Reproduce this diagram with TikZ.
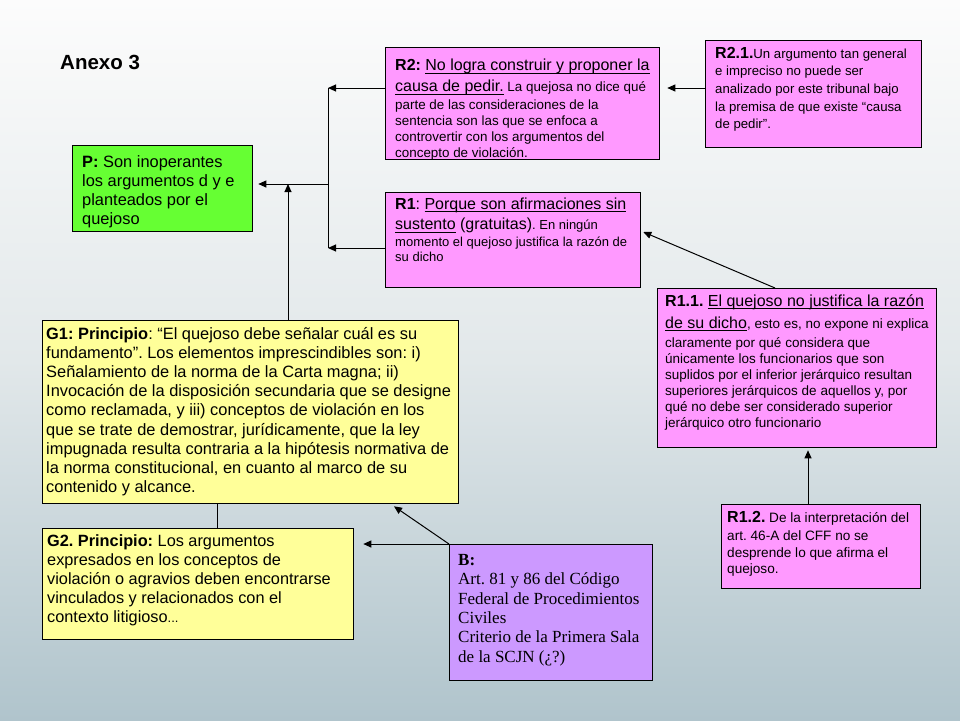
\documentclass[tikz,border=0pt]{standalone}
\usepackage{fontspec}
\setmainfont{Liberation Sans}
\newfontfamily\serifB{Liberation Serif}
\usetikzlibrary{arrows.meta,calc}
\frenchspacing
\definecolor{pinkbx}{RGB}{255,153,255}
\definecolor{greenbx}{RGB}{102,255,51}
\definecolor{yellowbx}{RGB}{255,255,153}
\definecolor{purplebx}{RGB}{204,153,255}
\definecolor{bgtop}{RGB}{252,252,252}
\definecolor{bgmid}{RGB}{226,232,234}
\definecolor{bgbot}{RGB}{176,196,204}
\newcommand\ulx[1]{\leavevmode\setbox0=\hbox{#1}\rlap{\rule[-3pt]{\wd0}{0.9pt}}\box0\relax}
\newcommand\fzH{\fontsize{16}{20}\selectfont}
\newcommand\fzS{\fontsize{13.4}{16}\selectfont}
\newcommand\fzG{\fontsize{16.4}{19.2}\selectfont}
\newcommand\fzB{\serifB\fontsize{17}{19.3}\selectfont}
\newcommand\tbox[2]{\parbox[t]{#1}{\raggedright\frenchspacing\lineskiplimit=-30pt\relax #2}}
\begin{document}
\begin{tikzpicture}[x=1pt,y=-1pt,
  bx/.style={draw=black,line width=1.3pt,inner sep=0pt,anchor=north west},
  txt/.style={inner sep=0pt,anchor=base west},
  arr/.style={line width=1pt,-{Triangle[length=8pt,width=7pt]}},
  conn/.style={line width=1pt}]
\useasboundingbox (0,0) rectangle (960,720);
\shade[top color=bgtop,bottom color=bgbot,middle color=bgmid] (0,0) rectangle (960,720);

\node[txt,font=\bfseries\fontsize{20.5}{24}\selectfont] (title) at (60,69) {Anexo 3};

% boxes
\node[bx,fill=greenbx,minimum width=180pt,minimum height=86pt] (P) at (72,145) {};
\node[bx,fill=pinkbx,minimum width=274pt,minimum height=112pt] (R2) at (385,47) {};
\node[bx,fill=pinkbx,minimum width=216pt,minimum height=107pt] (R21) at (705,40) {};
\node[bx,fill=pinkbx,minimum width=255pt,minimum height=95pt] (R1) at (385,192) {};
\node[bx,fill=pinkbx,minimum width=279pt,minimum height=159pt] (R11) at (657,288) {};
\node[bx,fill=yellowbx,minimum width=416pt,minimum height=183pt] (G1) at (42,320) {};
\node[bx,fill=yellowbx,minimum width=311pt,minimum height=111pt] (G2) at (42,528) {};
\node[bx,fill=purplebx,minimum width=203pt,minimum height=136pt] (B) at (449,544) {};
\node[bx,fill=pinkbx,minimum width=199pt,minimum height=84pt] (R12) at (721,504) {};

% texts
\node[txt] (Pt) at (82,167) {\tbox{175pt}{\fzG\textbf{P:} Son inoperantes\\los argumentos d y e\\planteados por el\\quejoso}};

\node[txt] (R2t) at (395,70.5) {\tbox{300pt}{\fzS{\fzH\textbf{R2:} \ulx{No logra construir y proponer la}}\\[5pt]{\fzH\ulx{causa de pedir.}} La quejosa no dice qué\\[2pt]parte de las consideraciones de la\\sentencia son las que se enfoca a\\controvertir con los argumentos del\\concepto de violación.}};

\node[txt] (R21t) at (715,58) {\tbox{210pt}{\fontsize{13.2}{17.7}\selectfont{\fzH\textbf{R2.1.}}Un argumento tan general\\e impreciso no puede ser\\analizado por este tribunal bajo\\la premisa de que existe “causa\\de pedir”.}};

\node[txt] (R1t) at (395,209) {\tbox{300pt}{\fontsize{13}{15.5}\selectfont{\fzH\textbf{R1}: \ulx{Porque son afirmaciones sin}}\\[5pt]{\fzH\ulx{sustento} (gratuitas)}. En ningún\\[1pt]momento el quejoso justifica la razón de\\su dicho}};

\node[txt] (R11t) at (665,306) {\tbox{290pt}{\fontsize{13.5}{16}\selectfont{\fzH\textbf{R1.1.} \ulx{El quejoso no justifica la razón}}\\[6pt]{\fzH\ulx{de su dicho}}, esto es, no expone ni explica\\[3pt]claramente por qué considera que\\únicamente los funcionarios que son\\suplidos por el inferior jerárquico resultan\\superiores jerárquicos de aquellos y, por\\qué no debe ser considerado superior\\jerárquico otro funcionario}};

\node[txt] (G1t) at (46,339) {\tbox{430pt}{\fzG\textbf{G1: Principio}: “El quejoso debe señalar cuál es su\\fundamento”. Los elementos imprescindibles son: i)\\Señalamiento de la norma de la Carta magna; ii)\\Invocación de la disposición secundaria que se designe\\como reclamada, y iii) conceptos de violación en los\\que se trate de demostrar, jurídicamente, que la ley\\impugnada resulta contraria a la hipótesis normativa de\\la norma constitucional, en cuanto al marco de su\\contenido y alcance.}};

\node[txt] (G2t) at (47,546) {\tbox{320pt}{\fontsize{16.3}{19.2}\selectfont\textbf{G2. Principio:} Los argumentos\\expresados en los conceptos de\\violación o agravios deben encontrarse\\vinculados y relacionados con el\\contexto litigioso{\fontsize{13}{15}\selectfont...}}};

\node[txt] (Bt) at (458,565.5) {\tbox{210pt}{\fzB\textbf{B:}\\Art. 81 y 86 del Código\\Federal de Procedimientos\\Civiles\\Criterio de la Primera Sala\\de la SCJN (¿?)}};

\node[txt] (R12t) at (727,522.5) {\tbox{200pt}{\fontsize{13.6}{16.8}\selectfont{\fzH\textbf{R1.2.}} De la interpretación del\\[1pt]art. 46-A del CFF no se\\desprende lo que afirma el\\quejoso.}};

% connector helper coordinates
\coordinate (jA) at (328,88);
\coordinate (jB) at (328,248);
\coordinate (jP) at (328,184);
\coordinate (jG) at (288,184);
\coordinate (xA) at (217,0);
\coordinate (xB) at (808,0);
\coordinate (xC) at (775,0);
\coordinate (yC) at (0,232);

% connectors
\draw[arr] (R21.west |- jA) -- ($(R2.east |- jA)+(7,0)$);
\draw[arr] (R2.west |- jA) -- (jA);
\draw[arr] (R1.west |- jB) -- (jB);
\draw[conn] (jA) -- (jB);
\draw[arr] (jP) -- ($(P.east |- jP)+(5,0)$);
\draw[arr] (G1.north -| jG) -- (jG);
\draw[arr] (R11.north -| xC) -- ($(R1.east |- yC)+(2,0)$);
\draw[arr] (R12.north -| xB) -- ($(R11.south -| xB)+(0,2)$);
\draw[conn] (G1.south -| xA) -- (G2.north -| xA);
\draw[arr] (B.north west) -- ($(G1.south west)+(352,2)$);
\draw[arr] (B.north west) -- ($(G2.east |- B.north west)+(9,0)$);
\end{tikzpicture}
\end{document}
